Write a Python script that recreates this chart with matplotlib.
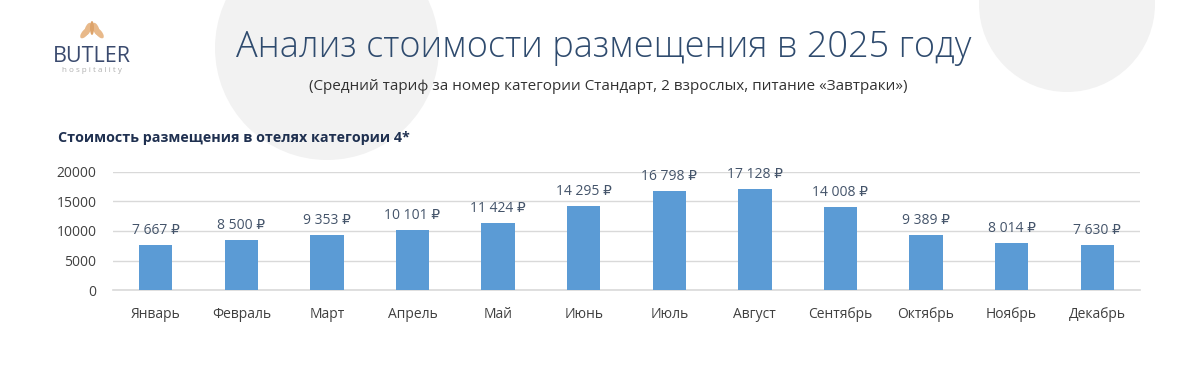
import matplotlib.pyplot as plt
from matplotlib.patches import Circle, Ellipse

plt.rcParams['font.family'] = ['Open Sans', 'DejaVu Sans']

months = ['Январь', 'Февраль', 'Март', 'Апрель', 'Май', 'Июнь',
          'Июль', 'Август', 'Сентябрь', 'Октябрь', 'Ноябрь', 'Декабрь']
prices = [7667, 8500, 9353, 10101, 11424, 14295,
          16798, 17128, 14008, 9389, 8014, 7630]
yticks = [0, 5000, 10000, 15000, 20000]

title = 'Анализ стоимости размещения в 2025 году'
subtitle = '(Средний тариф за номер категории Стандарт, 2 взрослых, питание «Завтраки»)'
chart_title = 'Стоимость размещения в отелях категории 4*'

navy = '#2F4B6E'
bar_color = '#5B9BD5'

fig = plt.figure(figsize=(12, 3.79), dpi=100)

# background decoration circles (figure pixel coords)
bg = fig.add_axes([0, 0, 1, 1], zorder=-5)
bg.set_xlim(0, 1200)
bg.set_ylim(379, 0)
bg.set_aspect('equal')
bg.axis('off')
bg.add_patch(Circle((327, 48), 112, color='#F2F2F2', lw=0))
bg.add_patch(Circle((1067, 4), 88, color='#F2F2F2', lw=0))

# logo
for dx, dy, ang in [(-7, 33, 40), (7, 33, -40), (-4, 29, 20), (4, 29, -20)]:
    bg.add_patch(Ellipse((92 + dx, dy), 6, 13, angle=ang, color='#E8B98A', lw=0))
bg.add_patch(Ellipse((92, 28), 4, 14, color='#DDA36A', lw=0))
fig.text(92 / 1200, 1 - 56 / 379, 'BUTLER', ha='center', va='center',
         fontsize=15.5, color='#3A4A6E')
fig.text(92 / 1200, 1 - 71 / 379, 'h o s p i t a l i t y', ha='center', va='center',
         fontsize=5.8, color='#B0B0B0')

fig.text(604 / 1200, 1 - 47 / 379, title, ha='center', va='center',
         fontsize=26, color=navy, fontweight='light')
fig.text(608 / 1200, 1 - 86 / 379, subtitle, ha='center', va='center',
         fontsize=11, color='#333333')
fig.text(58 / 1200, 1 - 138 / 379, chart_title, ha='left', va='center',
         fontsize=10.3, color='#1F3050', fontweight='bold')

ax = fig.add_axes([113 / 1200, 1 - 290 / 379, 1027 / 1200, 118 / 379])
x = range(len(months))
bars = ax.bar(x, prices, width=0.39, color=bar_color, zorder=3)
ax.set_xlim(-0.5, len(months) - 0.5)
ax.set_ylim(0, 20000)
ax.set_yticks(yticks)
ax.set_yticklabels([str(v) for v in yticks])
ax.set_xticks(list(x))
ax.set_xticklabels(months)
ax.grid(axis='y', color='#D9D9D9', lw=1, zorder=0)
ax.axhline(0, color='#D9D9D9', lw=1.2, zorder=2, clip_on=False)
for s in ax.spines.values():
    s.set_visible(False)
ax.tick_params(length=0, labelsize=10, colors='#404040')
ax.tick_params(axis='x', pad=12)
ax.tick_params(axis='y', pad=12)
ax.patch.set_alpha(0)

for b, v in zip(bars, prices):
    label = f'{v:,}'.replace(',', ' ') + ' ₽'
    ax.annotate(label, (b.get_x() + b.get_width() / 2, v), xytext=(0, 5),
                textcoords='offset points', ha='center', va='bottom',
                fontsize=10, color='#44546A')

fig.savefig('out.png', dpi=100, facecolor='white')
